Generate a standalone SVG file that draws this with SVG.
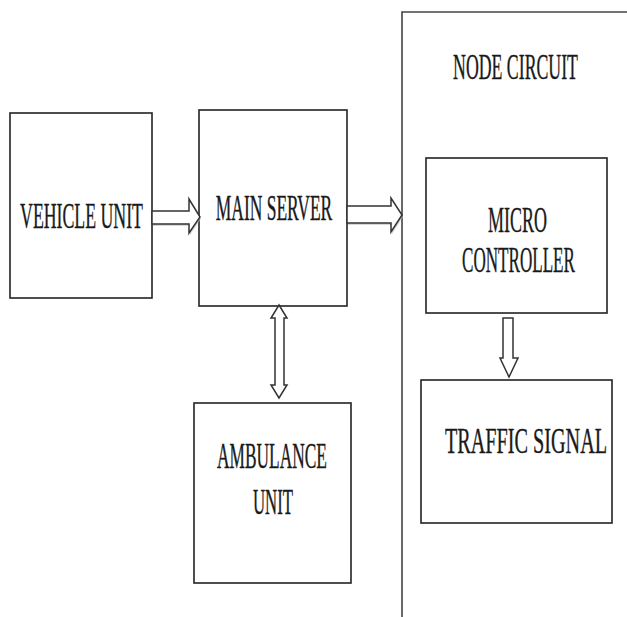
<svg xmlns="http://www.w3.org/2000/svg" width="627" height="617" viewBox="0 0 627 617">
<style>
.box{fill:#fff;stroke:#222;stroke-width:1.6}
.lbl{font-family:"Liberation Serif","Times New Roman",serif;font-size:35px;fill:#1a1a1a;text-anchor:middle;stroke:#1a1a1a;stroke-width:0.4}
.arr{fill:#fff;stroke:#333;stroke-width:1.5;stroke-linejoin:miter}
.sh{fill:#bbb;stroke:none;opacity:0.6}
</style>
<rect width="627" height="617" fill="#fff"/>
<g id="node-circuit">
<path d="M402,617 V12 H627" fill="none" stroke="#444" stroke-width="1.6"/>
<text class="lbl" transform="translate(515.5,79) scale(0.508,1)">NODE CIRCUIT</text>
</g>
<g id="vehicle-unit">
<rect class="box" x="10" y="113" width="142" height="185"/>
<text class="lbl" transform="translate(81.5,228) scale(0.508,1)">VEHICLE UNIT</text>
</g>
<g id="main-server">
<rect class="box" x="199" y="110" width="148" height="196"/>
<text class="lbl" transform="translate(274,220) scale(0.499,1)">MAIN SERVER</text>
</g>
<g id="ambulance-unit">
<rect class="box" x="194" y="403" width="157" height="180"/>
<text class="lbl" transform="translate(272,468) scale(0.496,1)">AMBULANCE</text>
<text class="lbl" transform="translate(273,514) scale(0.478,1)">UNIT</text>
</g>
<g id="micro-controller">
<rect class="box" x="426" y="158" width="181" height="155"/>
<text class="lbl" transform="translate(517.5,232) scale(0.514,1)">MICRO</text>
<text class="lbl" transform="translate(518.5,272) scale(0.488,1)">CONTROLLER</text>
</g>
<g id="traffic-signal">
<rect class="box" x="421" y="380" width="191" height="143"/>
<text class="lbl" transform="translate(526,453) scale(0.577,1)">TRAFFIC SIGNAL</text>
</g>
<g id="connectors">
<polygon class="sh" points="153,213 190,213 190,201 201,219 190,235 190,226 153,226"/>
<polygon class="arr" points="152,211 189,211 189,199 200,217 189,233 189,224 152,224"/>
<polygon class="sh" points="348,208 392,208 392,200 403,217 392,234 392,225 348,225"/>
<polygon class="arr" points="347,206 391,206 391,198 402,215 391,232 391,223 347,223"/>
<polygon class="arr" points="279,305 287,318 284,318 284,385 287,385 279,398 271,385 275,385 275,318 271,318"/>
<polygon class="arr" points="503,318 513,318 513,358 518,358 509,377 500,358 503,358"/>
</g>
</svg>
